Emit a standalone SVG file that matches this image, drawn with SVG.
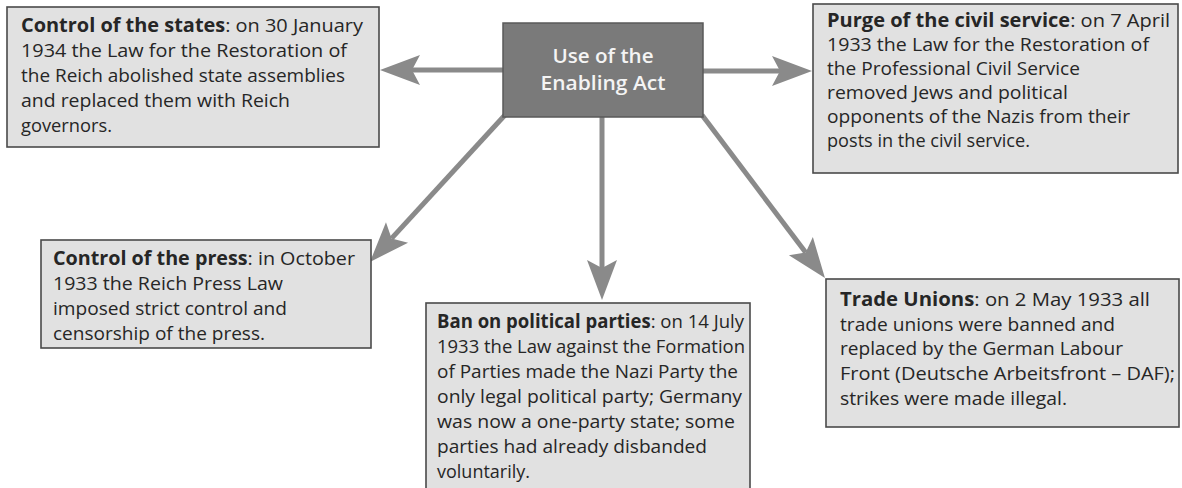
<svg xmlns="http://www.w3.org/2000/svg" width="1182" height="488" viewBox="0 0 1182 488">
<style>
.box{fill:#e1e1e1;stroke:#4a4a4a;stroke-width:1.6}
.center{fill:#7a7a7a;stroke:#5a5a5a;stroke-width:1.5}
.t{font-family:"Open Sans","Liberation Sans",sans-serif;font-size:19px;fill:#262626}
.b{font-weight:bold}
.ct{font-family:"Open Sans","Liberation Sans",sans-serif;font-size:19px;font-weight:600;fill:#f4f4f4;text-anchor:middle}
.conn{stroke:#8a8a8a;stroke-width:5;fill:none}
</style>
<defs>
<marker id="ah" markerUnits="userSpaceOnUse" markerWidth="40" markerHeight="30" viewBox="0 -15 40 30" refX="8" refY="0" orient="auto" overflow="visible">
<path d="M0,-15 L40,0 L0,15 L8,0 Z" fill="#8a8a8a"/>
</marker>
</defs>
<rect width="1182" height="488" fill="#ffffff"/>
<g id="connectors">
<line class="conn" x1="503" y1="70" x2="412" y2="70" marker-end="url(#ah)"/>
<line class="conn" x1="703" y1="71" x2="780" y2="71" marker-end="url(#ah)"/>
<line class="conn" x1="602" y1="117" x2="602" y2="268" marker-end="url(#ah)"/>
<line class="conn" x1="505" y1="115" x2="391.6" y2="238.4" marker-end="url(#ah)"/>
<line class="conn" x1="702" y1="115" x2="805.7" y2="252.5" marker-end="url(#ah)"/>
</g>
<g id="center">
<rect class="center" x="503" y="23" width="200" height="94"/>
<text class="ct" x="603" y="63" textLength="101" lengthAdjust="spacingAndGlyphs">Use of the</text>
<text class="ct" x="603" y="90" textLength="125" lengthAdjust="spacingAndGlyphs">Enabling Act</text>
</g>
<g id="states">
<rect class="box" x="7" y="7" width="372" height="140"/>
<text class="t" x="21" y="32" textLength="342" lengthAdjust="spacingAndGlyphs"><tspan class="b">Control of the states</tspan>: on 30 January</text>
<text class="t" x="21" y="57" textLength="326" lengthAdjust="spacingAndGlyphs">1934 the Law for the Restoration of</text>
<text class="t" x="21" y="82" textLength="324" lengthAdjust="spacingAndGlyphs">the Reich abolished state assemblies</text>
<text class="t" x="21" y="107" textLength="269" lengthAdjust="spacingAndGlyphs">and replaced them with Reich</text>
<text class="t" x="21" y="132" textLength="91" lengthAdjust="spacingAndGlyphs">governors.</text>
</g>
<g id="purge">
<rect class="box" x="813" y="4" width="365" height="169"/>
<text class="t" x="827" y="27" textLength="343" lengthAdjust="spacingAndGlyphs"><tspan class="b">Purge of the civil service</tspan>: on 7 April</text>
<text class="t" x="827" y="51" textLength="322" lengthAdjust="spacingAndGlyphs">1933 the Law for the Restoration of</text>
<text class="t" x="827" y="75" textLength="253" lengthAdjust="spacingAndGlyphs">the Professional Civil Service</text>
<text class="t" x="827" y="99" textLength="241" lengthAdjust="spacingAndGlyphs">removed Jews and political</text>
<text class="t" x="827" y="123" textLength="303" lengthAdjust="spacingAndGlyphs">opponents of the Nazis from their</text>
<text class="t" x="827" y="147" textLength="203" lengthAdjust="spacingAndGlyphs">posts in the civil service.</text>
</g>
<g id="press">
<rect class="box" x="41" y="240" width="330" height="108"/>
<text class="t" x="53" y="265" textLength="302" lengthAdjust="spacingAndGlyphs"><tspan class="b">Control of the press</tspan>: in October</text>
<text class="t" x="53" y="290" textLength="230" lengthAdjust="spacingAndGlyphs">1933 the Reich Press Law</text>
<text class="t" x="53" y="315" textLength="234" lengthAdjust="spacingAndGlyphs">imposed strict control and</text>
<text class="t" x="53" y="340" textLength="212" lengthAdjust="spacingAndGlyphs">censorship of the press.</text>
</g>
<g id="parties">
<rect class="box" x="426" y="303" width="324" height="195"/>
<text class="t" x="437" y="328" textLength="307" lengthAdjust="spacingAndGlyphs"><tspan class="b">Ban on political parties</tspan>: on 14 July</text>
<text class="t" x="437" y="353" textLength="308" lengthAdjust="spacingAndGlyphs">1933 the Law against the Formation</text>
<text class="t" x="437" y="378" textLength="301" lengthAdjust="spacingAndGlyphs">of Parties made the Nazi Party the</text>
<text class="t" x="437" y="403" textLength="305" lengthAdjust="spacingAndGlyphs">only legal political party; Germany</text>
<text class="t" x="437" y="428" textLength="298" lengthAdjust="spacingAndGlyphs">was now a one-party state; some</text>
<text class="t" x="437" y="453" textLength="270" lengthAdjust="spacingAndGlyphs">parties had already disbanded</text>
<text class="t" x="437" y="478" textLength="93" lengthAdjust="spacingAndGlyphs">voluntarily.</text>
</g>
<g id="unions">
<rect class="box" x="826" y="279" width="353" height="148"/>
<text class="t" x="840" y="306" textLength="310" lengthAdjust="spacingAndGlyphs"><tspan class="b">Trade Unions</tspan>: on 2 May 1933 all</text>
<text class="t" x="840" y="331" textLength="275" lengthAdjust="spacingAndGlyphs">trade unions were banned and</text>
<text class="t" x="840" y="355" textLength="283" lengthAdjust="spacingAndGlyphs">replaced by the German Labour</text>
<text class="t" x="840" y="380" textLength="335" lengthAdjust="spacingAndGlyphs">Front (Deutsche Arbeitsfront – DAF);</text>
<text class="t" x="840" y="405" textLength="227" lengthAdjust="spacingAndGlyphs">strikes were made illegal.</text>
</g>
</svg>
